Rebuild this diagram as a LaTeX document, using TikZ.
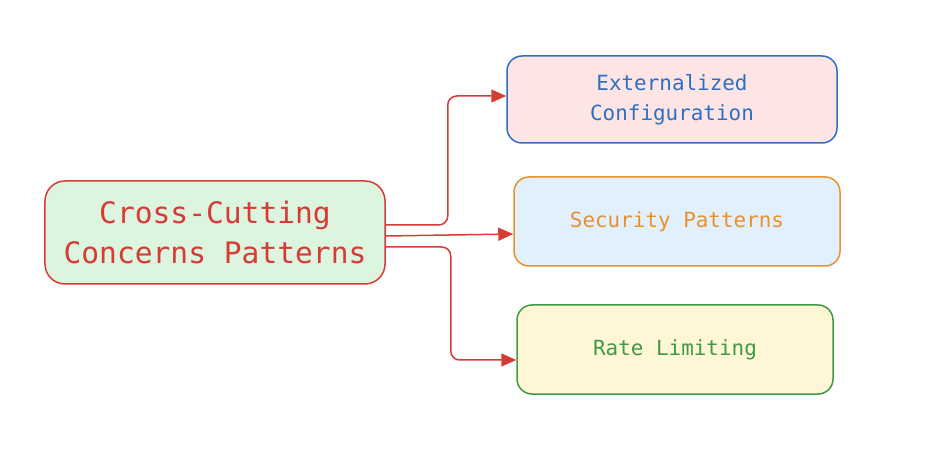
\documentclass[tikz,border=0pt]{standalone}
\usepackage{fontspec}
\setmonofont{DejaVu Sans Mono}
\usetikzlibrary{arrows.meta}

\definecolor{xred}{HTML}{D63B35}
\definecolor{xblue}{HTML}{2F6FC0}
\definecolor{xorange}{HTML}{E8912D}
\definecolor{xgreen}{HTML}{3F9A45}
\definecolor{xgreenfill}{HTML}{DDF5DF}
\definecolor{xpinkfill}{HTML}{FDE5E5}
\definecolor{xbluefill}{HTML}{E2F0FC}
\definecolor{xyellowfill}{HTML}{FFF6D6}

\begin{document}
\begin{tikzpicture}[
                            x=1bp,
                            y=-1bp,
                            ->,
                            >={Triangle[length=15bp,width=13bp]},
                            semithick
                        ]
                        \tikzstyle{card}=[draw,rounded corners=15bp,line width=1.5bp,align=center,inner sep=0pt,
                                          font=\ttfamily\fontsize{21}{30}\selectfont]
                        \tikzstyle{link}=[draw=xred,line width=1.5bp,rounded corners=9bp]

                        \useasboundingbox (0,0) rectangle (930,460);

                        \node[card,draw=xred,fill=xgreenfill,text=xred,rounded corners=20bp,
                              minimum width=340bp,minimum height=103bp,
                              font=\ttfamily\fontsize{29.7}{40}\selectfont] (main) at (215,232.5) {Cross-Cutting\\Concerns Patterns};
                        \node[card,draw=xblue,fill=xpinkfill,text=xblue,
                              minimum width=330bp,minimum height=87bp]   (ext)  at (672,99.5)  {Externalized\\Configuration};
                        \node[card,draw=xorange,fill=xbluefill,text=xorange,
                              minimum width=326bp,minimum height=89bp]   (sec)  at (677,221.5) {Security Patterns};
                        \node[card,draw=xgreen,fill=xyellowfill,text=xgreen,
                              minimum width=316bp,minimum height=89bp]   (rate) at (675,349.5) {Rate Limiting};

                        \path[link]
                        ([yshift=7.5bp]main.east)   -- ++(62,0) |- ([yshift=3.5bp]ext.west);
                        \path[link]
                        ([yshift=-3.5bp]main.east)  -- ([yshift=-12.5bp]sec.west);
                        \path[link]
                        ([yshift=-14.5bp]main.east) -- ++(65,0) |- ([yshift=-10.5bp]rate.west);
                    \end{tikzpicture}
\end{document}
